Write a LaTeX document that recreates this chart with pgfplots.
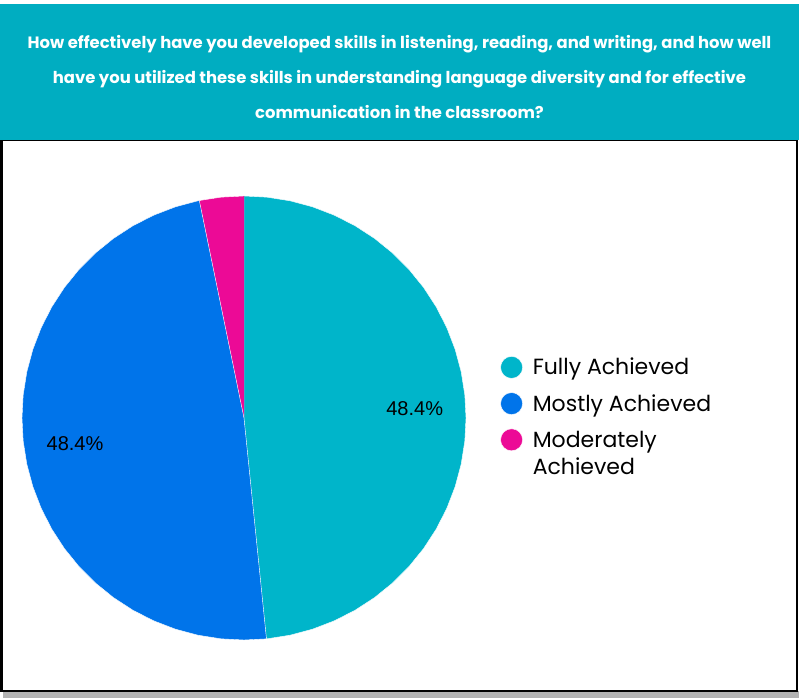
\documentclass[border=0pt]{standalone}
\usepackage{fontspec}
\setmainfont{Poppins}
\newfontfamily\arialfont{Liberation Sans}
\usepackage{pgfplots}
\pgfplotsset{compat=1.18}
\usepgfplotslibrary{polar}

\definecolor{banner}{HTML}{00ADC1}
\definecolor{fully}{HTML}{00B5CA}
\definecolor{mostly}{HTML}{0074EA}
\definecolor{moder}{HTML}{EC0A96}

\begin{document}
\begin{tikzpicture}
\useasboundingbox (0,0) rectangle (799bp,699bp);
% frame with shadow
\fill[gray!60] (3bp,1bp) rectangle (799bp,8bp);
\draw[line width=2bp, fill=white] (1.5bp,7.5bp) rectangle (797bp,559bp);
\fill[banner] (0,559bp) rectangle (799bp,695bp);
% title
\begin{scope}[every node/.style={text=white, anchor=base, font=\bfseries\fontsize{16.4bp}{19bp}\selectfont}]
\node at (399.5bp,650bp) {How effectively have you developed skills in listening, reading, and writing, and how well};
\node at (399.5bp,615bp) {have you utilized these skills in understanding language diversity and for effective};
\node at (399.5bp,580bp) {communication in the classroom?};
\end{scope}

\begin{polaraxis}[
    at={(244bp,281bp)}, anchor=origin,
    width=444bp, height=444bp, scale only axis,
    hide axis, clip=false,
    xmin=0, xmax=360, ymin=0, ymax=1,
    legend image code/.code={\fill[#1] (11bp,1bp) circle (11bp);},
    legend cell align=left,
    legend style={
        at={(axis description cs:1.077,0.531)}, anchor=west,
        draw=none, fill=none, inner sep=0pt,
        row sep=12.5bp,
        font=\fontsize{22bp}{27bp}\selectfont,
        nodes={inner sep=0pt, text height=18bp, text depth=5bp},
        /tikz/every odd column/.append style={column sep=10bp},
    },
]
% Fully Achieved 48.4% (15 of 31)
\addplot[fill=fully, draw=white, line width=0.4bp] coordinates {
 (0,0) (90,1) (84,1) (78,1) (72,1) (66,1) (60,1) (54,1) (48,1) (42,1) (36,1)
 (30,1) (24,1) (18,1) (12,1) (6,1) (0,1) (354,1) (348,1) (342,1) (336,1)
 (330,1) (324,1) (318,1) (312,1) (306,1) (300,1) (294,1) (288,1) (282,1)
 (276,1) (275.81,1)};
\addlegendentry{Fully Achieved}
% Mostly Achieved 48.4% (15 of 31)
\addplot[fill=mostly, draw=white, line width=0.4bp] coordinates {
 (0,0) (275.81,1) (270,1) (264,1) (258,1) (252,1) (246,1) (240,1) (234,1)
 (228,1) (222,1) (216,1) (210,1) (204,1) (198,1) (192,1) (186,1) (180,1)
 (174,1) (168,1) (162,1) (156,1) (150,1) (144,1) (138,1) (132,1) (126,1)
 (120,1) (114,1) (108,1) (102,1) (101.61,1)};
\addlegendentry{Mostly Achieved}
% Moderately Achieved 3.2% (1 of 31)
\addplot[fill=moder, draw=white, line width=0.4bp] coordinates {
 (0,0) (101.61,1) (96,1) (90,1)};
\addlegendentry{\begin{tabular}[t]{@{}l@{}}Moderately\\Achieved\end{tabular}}

\node[font=\arialfont\fontsize{20bp}{24bp}\selectfont] at (axis cs:3,0.77) {48.4\%};
\node[font=\arialfont\fontsize{20bp}{24bp}\selectfont] at (axis cs:188.7,0.77) {48.4\%};
\end{polaraxis}
\end{tikzpicture}
\end{document}
